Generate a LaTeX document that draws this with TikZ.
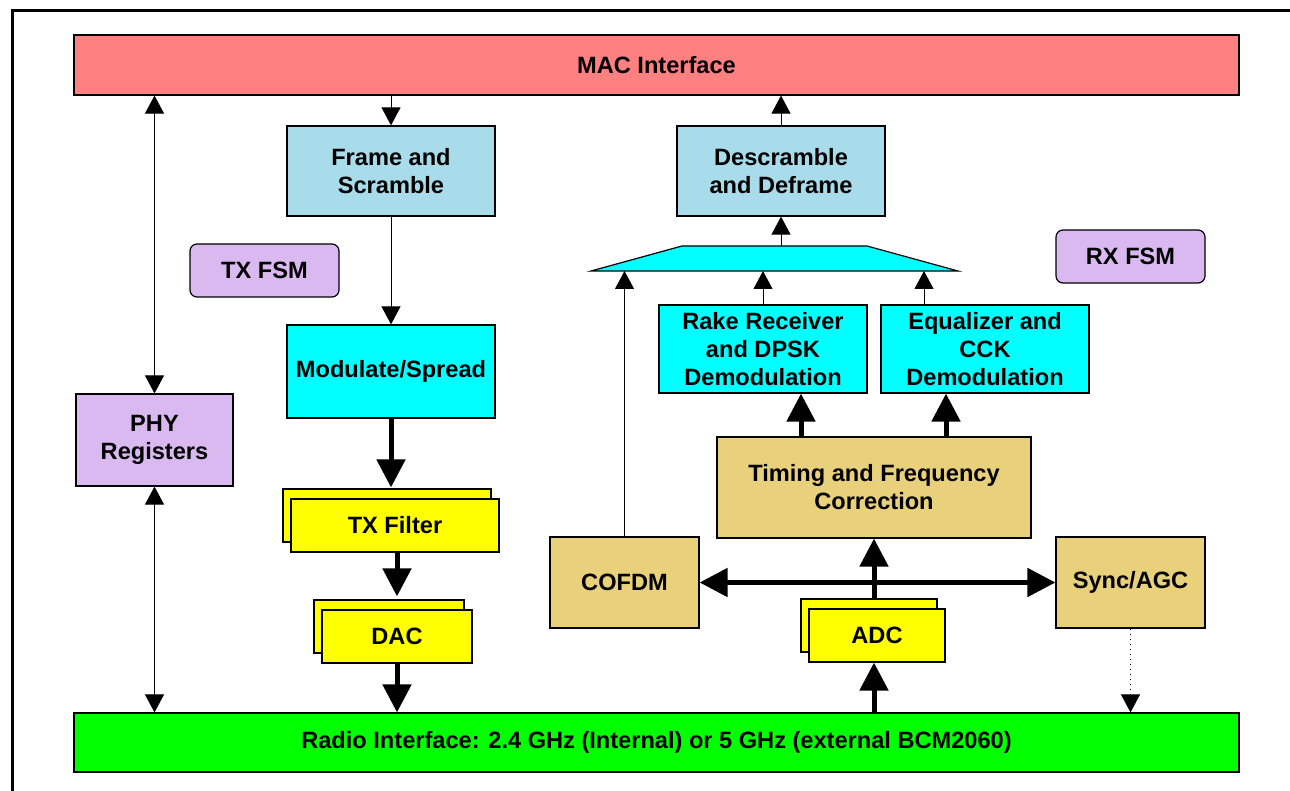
\documentclass[tikz,border=0pt]{standalone}
\usepackage{fontspec}
\setmainfont{Liberation Sans}
\usepackage{tikz}
\usetikzlibrary{positioning, arrows.meta, shadows}
\definecolor{macred}{HTML}{FF8080}
\definecolor{radiogreen}{HTML}{00FF00}
\definecolor{paleblue}{HTML}{A8DCEA}
\definecolor{rxcyan}{HTML}{00FFFF}
\definecolor{fsmlilac}{HTML}{DAB9F1}
\definecolor{sand}{HTML}{E9D07A}
\definecolor{stackyellow}{HTML}{FFFF00}
\tikzset{every node/.style={font=\fontsize{11.8}{14}\selectfont\bfseries, align=center},
	blk/.style={draw, line width=0.6pt, inner sep=0pt},
	fsm/.style={blk, fill=fsmlilac, rounded corners=3.5pt, minimum width=74.5pt, minimum height=26.5pt},
	stack/.style={blk, fill=stackyellow, minimum height=26.5pt, copy shadow={shadow xshift=-4pt, shadow yshift=5pt}},
	thinarrow/.style={line width=0.5pt, >={Triangle[width=9.5pt, length=9pt]}},
	fatarrow/.style={line width=2.5pt, >={Triangle[width=14pt, length=14pt]}}}

\begin{document}
\begin{tikzpicture}[x=0.5pt, y=-0.5pt]
	\useasboundingbox (0,0) rectangle (1290,791);
	\draw[line width=1.5pt] (12,830) -- (12,11) -- (1330,11);

	% buses
	\node[blk, fill=macred, minimum width=582.5pt, minimum height=30pt] (MAC) at (656.5,65) {MAC Interface};
	\node[blk, fill=radiogreen, minimum width=582.5pt, minimum height=29.5pt] (Radio) at (656.5,742.5) {Radio Interface: 2.4 GHz (Internal) or 5 GHz (external BCM2060)};

	% control
	\node[blk, fill=fsmlilac, minimum width=78.5pt, minimum height=46pt] (PHY) at (154.5,440) {PHY\\Registers};
	\node[fsm] (TXFSM) at (264.5,270.5) {TX FSM};
	\node[fsm] (RXFSM) at (1130.5,256.5) {RX FSM};

	% transmit side
	\node[blk, fill=paleblue, minimum width=104pt, minimum height=45pt] (FrameScr) at (391,171) {Frame and\\Scramble};
	\node[blk, fill=rxcyan, minimum width=104pt, minimum height=46.5pt] (Modulate) at (391,371.5) {Modulate/Spread};
	\node[stack, minimum width=104pt] (TXFilter) at (395,525.5) {TX Filter};
	\node[stack, minimum width=75pt] (DAC) at (397,636.5) {DAC};

	% receive side
	\node[blk, fill=paleblue, minimum width=104pt, minimum height=45pt] (Descr) at (781,171) {Descramble\\and Deframe};
	\coordinate (MergeSW) at (591,271);
	\coordinate (MergeNW) at (682,246);
	\coordinate (MergeNE) at (867,246);
	\coordinate (MergeSE) at (958,271);
	\draw[line width=0.6pt, fill=rxcyan] (MergeSW) -- (MergeNW) -- (MergeNE) -- (MergeSE) -- cycle;
	\node[blk, fill=rxcyan, minimum width=104pt, minimum height=44pt] (Rake) at (763,349) {Rake Receiver\\and DPSK\\Demodulation};
	\node[blk, fill=rxcyan, minimum width=104pt, minimum height=44pt] (Equal) at (985,349) {Equalizer and\\CCK\\Demodulation};
	\node[blk, fill=sand, minimum width=157pt, minimum height=50.5pt] (Timing) at (874,487.5) {Timing and Frequency\\Correction};
	\node[blk, fill=sand, minimum width=74.5pt, minimum height=45.5pt] (COFDM) at (624.5,582.5) {COFDM};
	\node[blk, fill=sand, minimum width=74.5pt, minimum height=45.5pt] (Sync) at (1130.5,582.5) {Sync/AGC};
	\node[stack, minimum width=68pt] (ADC) at (877,635.5) {ADC};

	% thin connectors
	\draw[thinarrow, <->] (PHY.north |- MAC.south) -- (PHY.north);
	\draw[thinarrow, <->] (PHY.south) -- (PHY.south |- Radio.north);
	\draw[thinarrow, ->] (MAC.south -| FrameScr.north) -- (FrameScr.north);
	\draw[thinarrow, ->] (FrameScr.south) -- (Modulate.north);
	\draw[thinarrow, ->] (Descr.north) -- (Descr.north |- MAC.south);
	\draw[thinarrow, ->] (Descr.south |- MergeNW) -- (Descr.south);
	\draw[thinarrow, ->] (COFDM.north) -- (COFDM.north |- MergeSW);
	\draw[thinarrow, ->] (Rake.north) -- (Rake.north |- MergeSW);
	\draw[thinarrow, ->] ([xshift=-30.5pt]Equal.north) -- ([xshift=-30.5pt]Equal.north |- MergeSE);
	\draw[thinarrow, ->, dotted] (Sync.south) -- (Sync.south |- Radio.north);

	% thick connectors
	\draw[fatarrow, ->, shorten >=5.5pt] (Modulate.south) -- (Modulate.south |- TXFilter.north);
	\draw[fatarrow, ->, shorten >=6.5pt] (TXFilter.south -| DAC.north) -- (DAC.north);
	\draw[fatarrow, ->] (DAC.south) -- (DAC.south |- Radio.north);
	\draw[fatarrow, ->] (Timing.south |- Radio.north) -- (Timing.south |- ADC.south);
	\draw[fatarrow, ->, shorten <=4pt] (Timing.south |- ADC.north) -- (Timing.south);
	\draw[fatarrow, <->] (COFDM.east) -- (Sync.west);
	\draw[fatarrow, ->] ([xshift=-36.5pt]Timing.north) -- ([xshift=-36.5pt]Timing.north |- Rake.south);
	\draw[fatarrow, ->] ([xshift=36pt]Timing.north) -- ([xshift=36pt]Timing.north |- Equal.south);
\end{tikzpicture}
\end{document}
